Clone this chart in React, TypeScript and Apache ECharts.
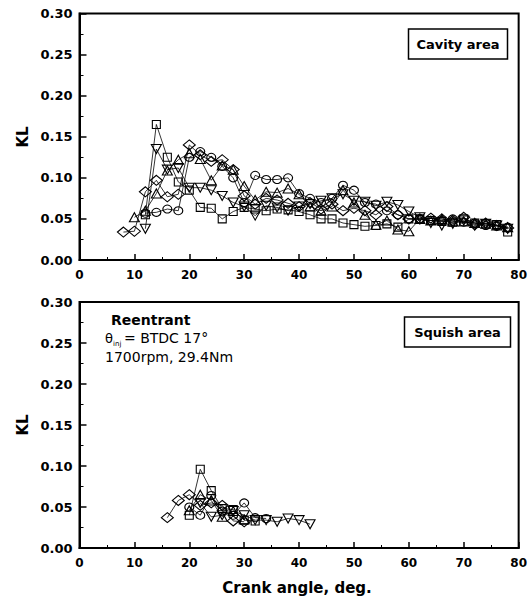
import React, { useEffect, useRef } from "react";
import * as echarts from "echarts";

// ---- Data ----
// Cavity area (top panel)
const cavitySquare: [number, number][] = [
  [12, 0.055], [14, 0.165], [16, 0.125], [18, 0.095], [20, 0.085], [22, 0.064], [24, 0.063], [26, 0.050],
  [28, 0.059], [30, 0.064], [32, 0.062], [34, 0.060], [36, 0.062], [38, 0.061], [40, 0.059], [42, 0.055],
  [44, 0.050], [46, 0.050], [48, 0.045], [50, 0.043], [52, 0.041], [54, 0.042], [56, 0.044], [58, 0.040],
  [60, 0.050], [62, 0.050], [64, 0.048], [66, 0.047], [68, 0.046], [70, 0.050], [72, 0.045], [74, 0.044],
  [76, 0.043], [78, 0.034],
];
const cavityCircle: [number, number][] = [
  [12, 0.057], [14, 0.058], [16, 0.062], [18, 0.060], [20, 0.125], [22, 0.132], [24, 0.125], [26, 0.114],
  [28, 0.100], [30, 0.070], [32, 0.103], [34, 0.098], [36, 0.098], [38, 0.100], [40, 0.081], [42, 0.075],
  [44, 0.070], [46, 0.075], [48, 0.091], [50, 0.085], [52, 0.070], [54, 0.068], [56, 0.060], [58, 0.055],
  [60, 0.050], [62, 0.050], [64, 0.048], [66, 0.048], [68, 0.050], [70, 0.046], [72, 0.045], [74, 0.042],
  [76, 0.041], [78, 0.040],
];
const cavityTriangle: [number, number][] = [
  [10, 0.052], [12, 0.060], [14, 0.081], [16, 0.109], [18, 0.122], [20, 0.130], [22, 0.123], [24, 0.097],
  [26, 0.115], [28, 0.110], [30, 0.090], [32, 0.073], [34, 0.083], [36, 0.082], [38, 0.087], [40, 0.080],
  [42, 0.065], [44, 0.060], [46, 0.065], [48, 0.085], [50, 0.070], [52, 0.055], [54, 0.043], [56, 0.048],
  [58, 0.037], [60, 0.035], [62, 0.050], [64, 0.048], [66, 0.050], [68, 0.047], [70, 0.047], [72, 0.045],
  [74, 0.044], [76, 0.042], [78, 0.040],
];
const cavityDownTriangle: [number, number][] = [
  [12, 0.038], [14, 0.135], [16, 0.110], [18, 0.112], [20, 0.088], [22, 0.088], [24, 0.085], [26, 0.078],
  [28, 0.070], [30, 0.065], [32, 0.054], [34, 0.066], [36, 0.064], [38, 0.060], [40, 0.065], [42, 0.068],
  [44, 0.072], [46, 0.075], [48, 0.080], [50, 0.072], [52, 0.071], [54, 0.066], [56, 0.071], [58, 0.067],
  [60, 0.059], [62, 0.052], [64, 0.045], [66, 0.042], [68, 0.044], [70, 0.048], [72, 0.042], [74, 0.044],
  [76, 0.042], [78, 0.038],
];
const cavityDiamond: [number, number][] = [
  [8, 0.034], [10, 0.035], [12, 0.083], [14, 0.097], [16, 0.077], [18, 0.080], [20, 0.140], [22, 0.128],
  [24, 0.120], [26, 0.122], [28, 0.110], [30, 0.078], [32, 0.068], [34, 0.075], [36, 0.073], [38, 0.069],
  [40, 0.065], [42, 0.070], [44, 0.062], [46, 0.068], [48, 0.060], [50, 0.063], [52, 0.060], [54, 0.055],
  [56, 0.065], [58, 0.055], [60, 0.050], [62, 0.050], [64, 0.051], [66, 0.050], [68, 0.048], [70, 0.052],
  [72, 0.043], [74, 0.045], [76, 0.042], [78, 0.039],
];

// Squish area (bottom panel)
const squishSquare: [number, number][] = [
  [20, 0.040], [22, 0.096], [24, 0.070], [26, 0.048], [28, 0.047], [30, 0.034], [32, 0.033],
];
const squishCircle: [number, number][] = [
  [20, 0.050], [22, 0.040], [24, 0.064], [26, 0.045], [28, 0.040], [30, 0.055], [32, 0.037], [34, 0.036],
];
const squishTriangle: [number, number][] = [
  [20, 0.046], [22, 0.065], [24, 0.058], [26, 0.038], [28, 0.045], [30, 0.035],
];
const squishDownTriangle: [number, number][] = [
  [22, 0.055], [24, 0.038], [26, 0.040], [28, 0.045], [30, 0.040], [32, 0.034], [34, 0.034], [36, 0.032],
  [38, 0.036], [40, 0.034], [42, 0.029],
];
const squishDiamond: [number, number][] = [
  [16, 0.037], [18, 0.058], [20, 0.065], [22, 0.052], [24, 0.055], [26, 0.052], [28, 0.033], [30, 0.032],
];

const xMin = 0;
const xMax = 80;
const xStep = 10;
const yMin = 0;
const yMax = 0.3;
const yStep = 0.05;

const FONT = "DejaVu Sans";

type Marker = { symbol: string; size: number | number[]; rotate?: number };
const markers: Record<string, Marker> = {
  square: { symbol: "rect", size: [8, 8] },
  circle: { symbol: "circle", size: [9, 8] },
  triangle: { symbol: "triangle", size: [10, 9] },
  down: { symbol: "triangle", size: [10, 9], rotate: 180 },
  diamond: { symbol: "diamond", size: [12, 10] },
};

function mkSeries(data: [number, number][], m: Marker, idx: number) {
  return {
    type: "line",
    xAxisIndex: idx,
    yAxisIndex: idx,
    data,
    symbol: m.symbol,
    symbolSize: m.size,
    symbolRotate: m.rotate ?? 0,
    showAllSymbol: true,
    lineStyle: { color: "#000", width: 0.8 },
    itemStyle: { color: "rgba(255,255,255,0)", borderColor: "#000", borderWidth: 1.1 },
    emphasis: { disabled: true },
    silent: true,
    z: 3,
  };
}

function xAxisCfg(idx: number) {
  return {
    type: "value",
    gridIndex: idx,
    min: xMin,
    max: xMax,
    interval: xStep,
    axisLine: { show: true, lineStyle: { color: "#000", width: 2 } },
    axisTick: { show: true, inside: true, length: 6, lineStyle: { color: "#000", width: 1.5 } },
    minorTick: { show: true, splitNumber: 2, length: 3, lineStyle: { color: "#000", width: 1 } },
    splitLine: { show: false },
    axisLabel: {
      color: "#000",
      fontFamily: FONT,
      fontWeight: "bold",
      fontSize: 12,
      margin: 9,
    },
  };
}

function yAxisCfg(idx: number) {
  return {
    type: "value",
    gridIndex: idx,
    min: yMin,
    max: yMax,
    interval: yStep,
    axisLine: { show: true, lineStyle: { color: "#000", width: 2 } },
    axisTick: { show: true, inside: true, length: 7, lineStyle: { color: "#000", width: 1.5 } },
    minorTick: { show: true, splitNumber: 2, length: 4, lineStyle: { color: "#000", width: 1 } },
    splitLine: { show: false },
    axisLabel: {
      color: "#000",
      fontFamily: FONT,
      fontWeight: "bold",
      fontSize: 13,
      margin: 7,
      formatter: (v: number) => v.toFixed(2),
    },
  };
}

export default function App() {
  const ref = useRef<HTMLDivElement>(null);

  useEffect(() => {
    if (!ref.current) return;
    const chart = echarts.init(ref.current, null, { renderer: "svg" });

    const option: any = {
      animation: false,
      backgroundColor: "#fff",
      grid: [
        { left: 79.5, top: 13.5, width: 442.5, height: 246.5, show: true, borderColor: "#000", borderWidth: 2, backgroundColor: "transparent" },
        { left: 79.5, top: 302, width: 442.5, height: 246, show: true, borderColor: "#000", borderWidth: 2, backgroundColor: "transparent" },
      ],
      xAxis: [xAxisCfg(0), xAxisCfg(1)],
      yAxis: [yAxisCfg(0), yAxisCfg(1)],
      series: [
        mkSeries(cavitySquare, markers.square, 0),
        mkSeries(cavityCircle, markers.circle, 0),
        mkSeries(cavityTriangle, markers.triangle, 0),
        mkSeries(cavityDownTriangle, markers.down, 0),
        mkSeries(cavityDiamond, markers.diamond, 0),
        mkSeries(squishSquare, markers.square, 1),
        mkSeries(squishCircle, markers.circle, 1),
        mkSeries(squishTriangle, markers.triangle, 1),
        mkSeries(squishDownTriangle, markers.down, 1),
        mkSeries(squishDiamond, markers.diamond, 1),
      ],
      graphic: [
        {
          type: "text", x: 23, y: 137, rotation: Math.PI / 2,
          style: { text: "KL", fontFamily: FONT, fontWeight: "bold", fontSize: 15, fill: "#000", align: "center", verticalAlign: "middle" },
        },
        {
          type: "text", x: 23, y: 425, rotation: Math.PI / 2,
          style: { text: "KL", fontFamily: FONT, fontWeight: "bold", fontSize: 15, fill: "#000", align: "center", verticalAlign: "middle" },
        },
        {
          type: "text", x: 297, y: 588,
          style: { text: "Crank angle, deg.", fontFamily: FONT, fontWeight: "bold", fontSize: 15, fill: "#000", align: "center", verticalAlign: "middle" },
        },
        {
          type: "rect", shape: { x: 408.5, y: 29, width: 99, height: 30 },
          style: { fill: "#fff", stroke: "#000", lineWidth: 1.5 }, z: 10,
        },
        {
          type: "text", x: 458, y: 44, z: 11,
          style: { text: "Cavity area", fontFamily: FONT, fontWeight: "bold", fontSize: 13, fill: "#000", align: "center", verticalAlign: "middle" },
        },
        {
          type: "rect", shape: { x: 404.5, y: 317, width: 106, height: 30 },
          style: { fill: "#fff", stroke: "#000", lineWidth: 1.5 }, z: 10,
        },
        {
          type: "text", x: 457.5, y: 332, z: 11,
          style: { text: "Squish area", fontFamily: FONT, fontWeight: "bold", fontSize: 13, fill: "#000", align: "center", verticalAlign: "middle" },
        },
        {
          type: "text", x: 111, y: 320,
          style: { text: "Reentrant", fontFamily: FONT, fontWeight: "bold", fontSize: 14, fill: "#000", align: "left", verticalAlign: "middle" },
        },
        {
          type: "text", x: 105, y: 338,
          style: { text: "θ", fontFamily: FONT, fontSize: 13, fill: "#000", align: "left", verticalAlign: "middle" },
        },
        {
          type: "text", x: 113, y: 344,
          style: { text: "inj", fontFamily: FONT, fontSize: 7, fill: "#000", align: "left", verticalAlign: "middle" },
        },
        {
          type: "text", x: 124, y: 338,
          style: { text: "= BTDC 17°", fontFamily: FONT, fontSize: 14, fill: "#000", align: "left", verticalAlign: "middle" },
        },
        {
          type: "text", x: 105, y: 357,
          style: { text: "1700rpm, 29.4Nm", fontFamily: FONT, fontSize: 14, fill: "#000", align: "left", verticalAlign: "middle" },
        },
      ],
    };

    chart.setOption(option);
    return () => chart.dispose();
  }, []);

  return <div ref={ref} style={{ width: 530, height: 603, position: "absolute", left: 0, top: 0 }} />;
}
